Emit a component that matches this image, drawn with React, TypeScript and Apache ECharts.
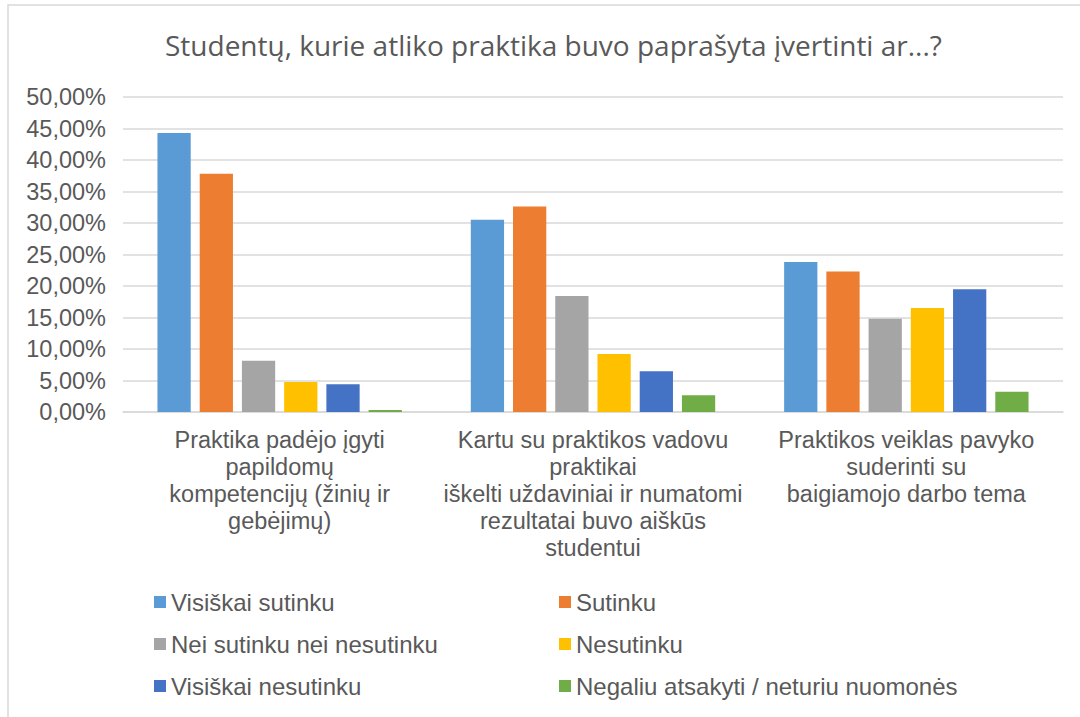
import React, { useEffect, useRef } from "react";
import * as echarts from "echarts";

const titleText = "Studentų, kurie atliko praktika buvo paprašyta įvertinti ar...?";
const categories = [
  "Praktika padėjo įgyti\npapildomų\nkompetencijų (žinių ir\ngebėjimų)",
  "Kartu su praktikos vadovu\npraktikai\niškelti uždaviniai ir numatomi\nrezultatai buvo aiškūs\nstudentui",
  "Praktikos veiklas pavyko\nsuderinti su\nbaigiamojo darbo tema",
];
const seriesNames = [
  "Visiškai sutinku",
  "Sutinku",
  "Nei sutinku nei nesutinku",
  "Nesutinku",
  "Visiškai nesutinku",
  "Negaliu atsakyti / neturiu nuomonės",
];
const visiskaiSutinku = [44.3, 30.5, 23.8];
const sutinku = [37.8, 32.6, 22.3];
const neiSutinku = [8.15, 18.4, 14.8];
const nesutinku = [4.76, 9.2, 16.5];
const visiskaiNesutinku = [4.4, 6.46, 19.5];
const negaliu = [0.3, 2.65, 3.2];
const seriesValues = [visiskaiSutinku, sutinku, neiSutinku, nesutinku, visiskaiNesutinku, negaliu];
const colors = ["#5B9BD5", "#ED7D31", "#A5A5A5", "#FFC000", "#4472C4", "#70AD47"];

const legendPos = [
  { left: 149, top: 585 },
  { left: 554, top: 585 },
  { left: 149, top: 627 },
  { left: 554, top: 627 },
  { left: 149, top: 669 },
  { left: 554, top: 669 },
];

export default function App() {
  const ref = useRef<HTMLDivElement>(null);
  useEffect(() => {
    if (!ref.current) return;
    const chart = echarts.init(ref.current, null, { renderer: "svg" });
    const textColor = "#595959";
    const font = "Liberation Sans, Arial, sans-serif";
    chart.setOption({
      animation: false,
      color: colors,
      title: {
        text: titleText,
        left: 160,
        top: 26,
        textStyle: {
          fontFamily: "Open Sans, sans-serif",
          fontSize: 28,
          fontWeight: "normal",
          color: textColor,
        },
      },
      graphic: [
        {
          type: "rect",
          shape: { x: 8, y: 5, width: 1200, height: 900 },
          style: { fill: "none", stroke: "#d9d9d9", lineWidth: 1.5 },
          silent: true,
          z: -1,
        },
      ],
      legend: seriesNames.map((name, i) => ({
        data: [name],
        left: legendPos[i].left,
        top: legendPos[i].top,
        itemWidth: 12,
        itemHeight: 12,
        icon: "rect",
        textStyle: { fontFamily: font, fontSize: 24, color: textColor },
        selectedMode: false,
      })),
      grid: { left: 123, right: 17, top: 97, bottom: 305, containLabel: false },
      xAxis: {
        type: "category",
        data: categories,
        axisLine: { lineStyle: { color: "#d9d9d9", width: 1.5 } },
        axisTick: { show: false },
        axisLabel: {
          interval: 0,
          margin: 14,
          fontFamily: font,
          fontSize: 23.5,
          lineHeight: 27,
          color: textColor,
          align: "center",
        },
      },
      yAxis: {
        type: "value",
        min: 0,
        max: 50,
        interval: 5,
        axisLine: { show: false },
        axisTick: { show: false },
        splitLine: { lineStyle: { color: "#d9d9d9", width: 1.5 } },
        axisLabel: {
          margin: 17,
          fontFamily: font,
          fontSize: 23.5,
          color: textColor,
          formatter: (v: number) => v.toFixed(2).replace(".", ",") + "%",
        },
      },
      series: seriesNames.map((name, i) => ({
        name,
        type: "bar",
        data: seriesValues[i],
        barGap: "27%",
        barCategoryGap: "22%",
        itemStyle: { color: colors[i] },
      })),
    });
    return () => chart.dispose();
  }, []);
  return (
    <div
      ref={ref}
      style={{ position: "absolute", left: 0, top: 0, width: 1080, height: 717, background: "#fff" }}
    />
  );
}
